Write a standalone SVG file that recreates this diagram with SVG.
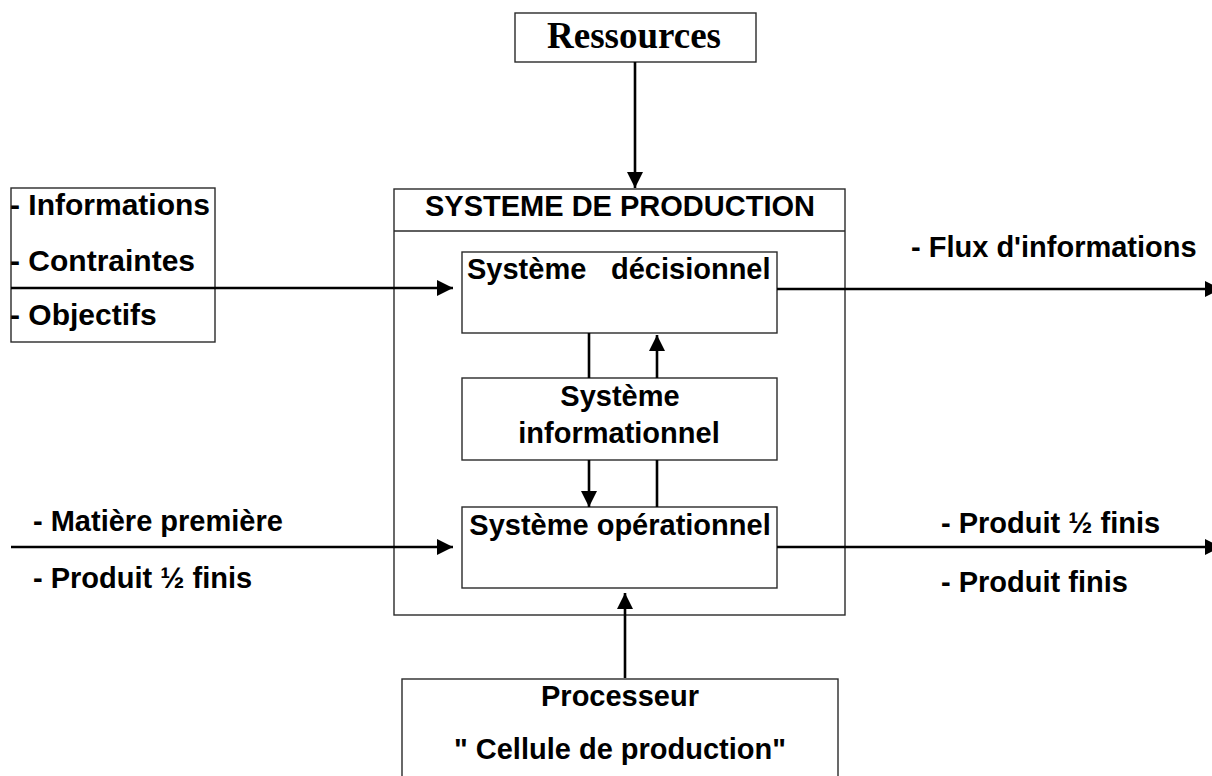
<svg xmlns="http://www.w3.org/2000/svg" width="1212" height="776" viewBox="0 0 1212 776">
  <style>
    .box { fill: #ffffff; stroke: #2a2a2a; stroke-width: 1.4; }
    .flow { stroke: #000000; stroke-width: 2.6; fill: none; }
    .lbl { font-family: "Liberation Sans", Arial, sans-serif; font-weight: bold; font-size: 29px; fill: #000000; }
    .lbl30 { font-size: 30px; }
    .serif { font-family: "Liberation Serif", "Times New Roman", serif; font-weight: bold; font-size: 37px; fill: #000000; }
    .mid { text-anchor: middle; }
  </style>
  <defs>
    <marker id="arrow" markerUnits="userSpaceOnUse" markerWidth="17" markerHeight="17" refX="16" refY="8" orient="auto">
      <path d="M0,0 L16,8 L0,16 Z" fill="#000000"/>
    </marker>
  </defs>

  <rect width="1212" height="776" fill="#ffffff"/>

  <!-- Resources feeding the system from above -->
  <g id="ressources">
    <rect class="box" x="515" y="13" width="241" height="49"/>
    <text class="serif mid" x="634" y="48">Ressources</text>
  </g>

  <!-- Enclosing production system -->
  <g id="systeme-production">
    <rect class="box" x="394" y="189" width="451" height="426" fill="none"/>
    <line x1="394" y1="231" x2="845" y2="231" stroke="#2a2a2a" stroke-width="1.4"/>
    <text class="lbl mid" x="620" y="216">SYSTEME DE PRODUCTION</text>
  </g>

  <!-- Inputs on the left -->
  <g id="entrees-info">
    <rect class="box" x="11" y="188" width="204" height="154"/>
    <text class="lbl lbl30" x="10" y="215">- Informations</text>
    <text class="lbl lbl30" x="10" y="271">- Contraintes</text>
    <text class="lbl lbl30" x="10" y="325">- Objectifs</text>
  </g>

  <g id="entrees-matiere">
    <text class="lbl" x="33" y="531">- Matière première</text>
    <text class="lbl" x="33" y="588">- Produit ½ finis</text>
  </g>

  <!-- Sub-systems -->
  <g id="systeme-decisionnel">
    <rect class="box" x="462" y="252" width="315" height="81"/>
    <text class="lbl" x="467" y="279">Système</text>
    <text class="lbl" x="611" y="279">décisionnel</text>
  </g>

  <g id="systeme-informationnel">
    <rect class="box" x="462" y="378" width="315" height="82"/>
    <text class="lbl mid" x="620" y="406">Système</text>
    <text class="lbl mid" x="619" y="443">informationnel</text>
  </g>

  <g id="systeme-operationnel">
    <rect class="box" x="462" y="507" width="315" height="81"/>
    <text class="lbl mid" x="620" y="535">Système opérationnel</text>
  </g>

  <!-- Outputs on the right -->
  <g id="sorties-info">
    <text class="lbl" x="911" y="257">- Flux d'informations</text>
  </g>

  <g id="sorties-produits">
    <text class="lbl" x="941" y="533">- Produit ½ finis</text>
    <text class="lbl" x="941" y="592">- Produit finis</text>
  </g>

  <!-- Processor below -->
  <g id="processeur">
    <rect class="box" x="402" y="679" width="436" height="110"/>
    <text class="lbl mid" x="620" y="706">Processeur</text>
    <text class="lbl mid" x="620" y="759">" Cellule de production"</text>
  </g>

  <!-- Connectors -->
  <g id="connecteurs">
    <line class="flow" x1="635" y1="62" x2="635" y2="188" marker-end="url(#arrow)"/>
    <line class="flow" x1="11" y1="288" x2="453" y2="288" marker-end="url(#arrow)"/>
    <line class="flow" x1="11" y1="547" x2="453" y2="547" marker-end="url(#arrow)"/>
    <line class="flow" x1="777" y1="289" x2="1221" y2="289" marker-end="url(#arrow)"/>
    <line class="flow" x1="777" y1="547" x2="1221" y2="547" marker-end="url(#arrow)"/>
    <line class="flow" x1="589" y1="333" x2="589" y2="378"/>
    <line class="flow" x1="657" y1="378" x2="657" y2="335" marker-end="url(#arrow)"/>
    <line class="flow" x1="589" y1="460" x2="589" y2="507" marker-end="url(#arrow)"/>
    <line class="flow" x1="657" y1="507" x2="657" y2="460"/>
    <line class="flow" x1="625" y1="678" x2="625" y2="593" marker-end="url(#arrow)"/>
  </g>
</svg>
